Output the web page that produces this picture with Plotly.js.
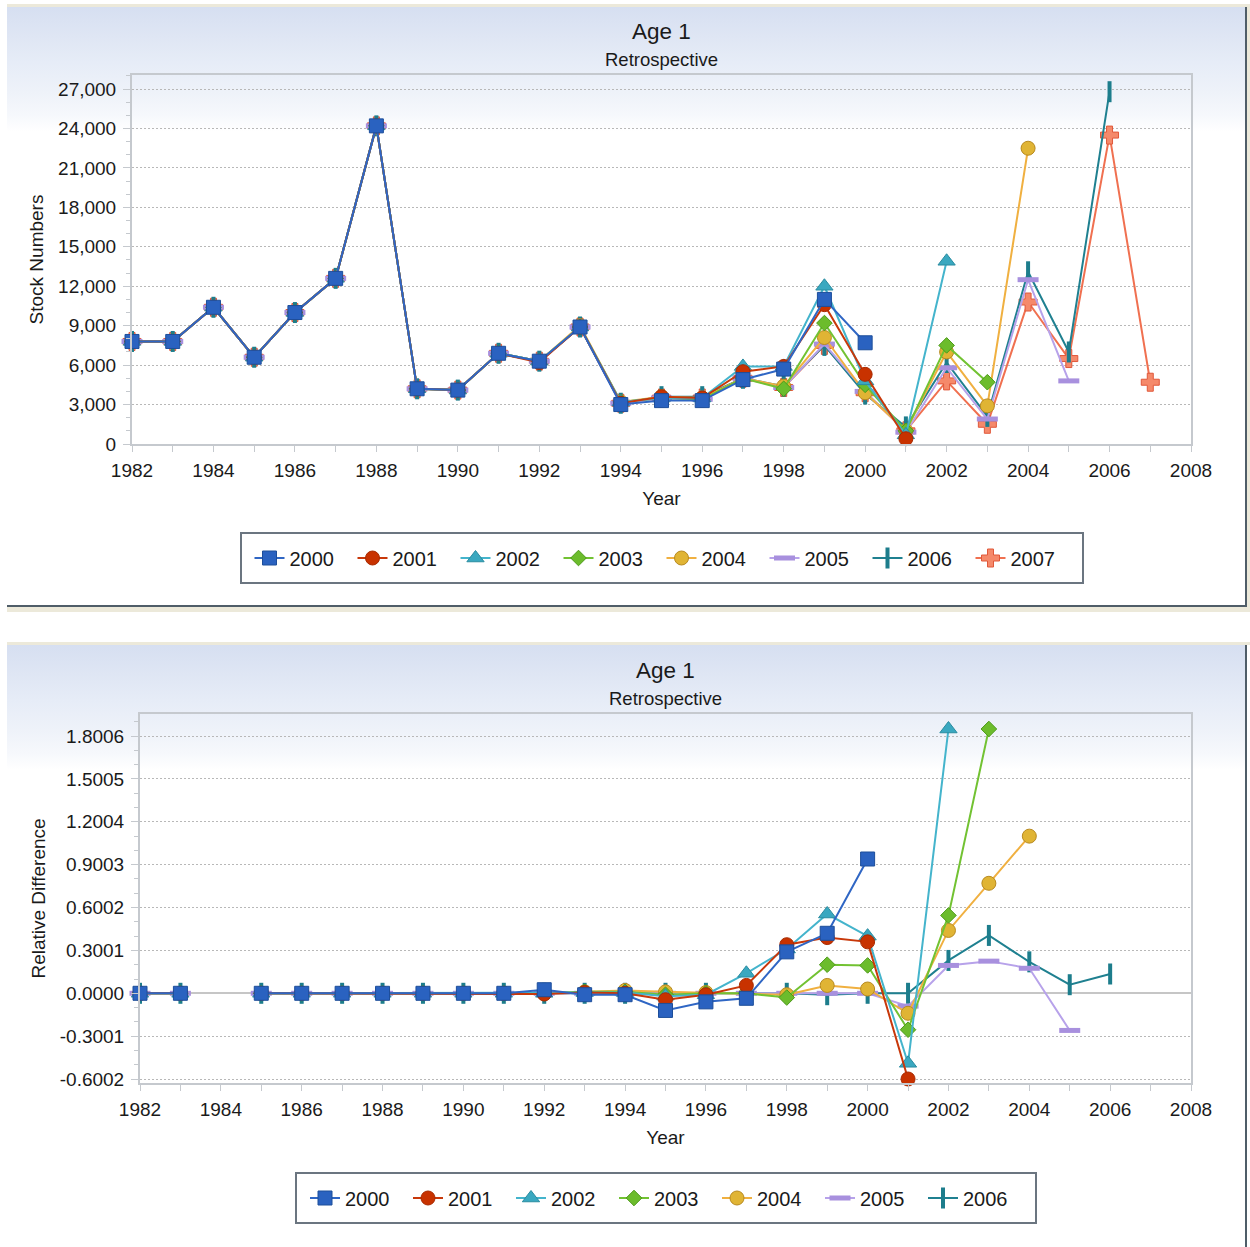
<!DOCTYPE html>
<html>
<head>
<meta charset="utf-8">
<script src="https://cdn.plot.ly/plotly-3.0.1.min.js"></script>
<style>
  html, body { margin:0; padding:0; background:#ffffff; }
  body { width:1250px; height:1247px; position:relative; overflow:hidden; font-family:"Liberation Sans", Arial, sans-serif; }
  .panel { position:absolute; left:7px; width:1240px; box-sizing:border-box;
           border-right:2px solid #4f5d68;
           background: linear-gradient(to bottom, #d6dff1 0px, #dfe6f4 30px, #e6ecf7 55px, #eef2f9 85px, #f6f8fc 108px, #ffffff 125px); }
  #p1 { top:7px; height:600px; border-bottom:2px solid #4f5d68; }
  #p2 { top:645px; height:602px; }
  .cream { position:absolute; background:#ece9da; }
</style>
</head>
<body>
<div class="cream" style="left:7px;top:4px;width:1243px;height:3px;"></div>
<div class="cream" style="left:7px;top:607px;width:1243px;height:5px;"></div>
<div class="cream" style="left:1247px;top:7px;width:3px;height:605px;"></div>
<div class="cream" style="left:7px;top:642px;width:1243px;height:3px;"></div>
<div id="p1" class="panel"><div id="c1"></div></div>
<div id="p2" class="panel"><div id="c2"></div></div>
<script>
// ---------- DATA ----------
const years = [1982,1983,1984,1985,1986,1987,1988,1989,1990,1991,1992,1993,1994,1995,1996,1997,1998,1999,2000,2001,2002,2003,2004,2005,2006,2007];
const seriesNames = ['2000','2001','2002','2003','2004','2005','2006','2007'];

// Stock numbers (top chart), 1982 onward
const stock2000 = [7800,7800,10400,6600,10000,12600,24200,4200,4100,6900,6300,8900, 3000,3300,3300,4900,5700,11000,7700];
const stock2001 = [7800,7800,10400,6600,10000,12600,24200,4200,4100,6900,6200,8900, 3100,3600,3500,5500,5900,10600,5300,400];
const stock2002 = [7800,7800,10400,6600,10000,12600,24200,4200,4100,6900,6300,8900, 3200,3500,3500,5900,5900,12000,4800,700,13900];
const stock2003 = [7800,7800,10400,6600,10000,12600,24200,4200,4100,6900,6300,8900, 3200,3500,3400,5000,4200,9200,4500,1000,7500,4700];
const stock2004 = [7800,7800,10400,6600,10000,12600,24200,4200,4100,6900,6300,9000, 3200,3600,3500,5000,4400,8100,3900,1000,7000,2900,22500];
const stock2005 = [7800,7800,10400,6600,10000,12600,24200,4200,4100,6900,6300,8900, 3100,3500,3400,5000,4300,7600,4000,900,5800,1900,12500,4800];
const stock2006 = [7800,7800,10400,6600,10000,12600,24200,4200,4100,6900,6300,8900, 3100,3600,3600,5000,4400,7500,3800,1300,6200,2100,13100,7000,26800];
const stock2007 = [7800,7800,10400,6600,10000,12600,24200,4200,4100,6900,6300,8900, 3100,3500,3500,5000,4300,7500,3900,1000,4800,1500,10800,6500,23500,4700];

// Relative difference (bottom chart), 1982 onward (1984 missing)
const rel2000 = [0,0,null,0,0,0,0,0,0,0, 0.025,-0.01,-0.01,-0.12,-0.06,-0.035,0.29,0.42,0.94];
const rel2001 = [0,0,null,0,0,0,0,0,0,0, -0.005,0.005,0.0,-0.045,-0.01,0.055,0.34,0.39,0.36,-0.60];
const rel2002 = [0,0,null,0,0,0,0,0,0,0, 0.0,0.005,0.005,-0.02,-0.01,0.14,0.31,0.555,0.40,-0.49,1.85];
const rel2003 = [0,0,null,0,0,0,0,0,0,0, 0.0,0.01,0.01,-0.01,0.0,0.0,-0.03,0.20,0.195,-0.255,0.545,1.85];
const rel2004 = [0,0,null,0,0,0,0,0,0,0, 0.0,0.01,0.02,0.01,0.005,0.0,-0.01,0.055,0.03,-0.14,0.44,0.77,1.10];
const rel2005 = [0,0,null,0,0,0,0,0,0,0, 0,0,0,0,0,0,0,0,0,-0.09,0.195,0.225,0.175,-0.26];
const rel2006 = [0,0,null,0,0,0,0,0,0,0, 0,0,0,0,0,0,0,-0.01,0,0,0.23,0.405,0.22,0.06,0.135];

const relTickVals = [-0.6002,-0.3001,0,0.3001,0.6002,0.9003,1.2004,1.5005,1.8006];
const relTickText = ['-0.6002','-0.3001','0.0000','0.3001','0.6002','0.9003','1.2004','1.5005','1.8006'];

// ---------- STYLES ----------
const styles = {
  '2000': {line:'#2f66c4', marker:{symbol:'square', size:14, color:'#2a62c0', line:{color:'#1d4e9a', width:1}}},
  '2001': {line:'#c8380a', marker:{symbol:'circle', size:14, color:'#c83200', line:{color:'#a82a00', width:1}}},
  '2002': {line:'#44b4cc', marker:{symbol:'triangle-up', size:15, color:'#3aa8c0', line:{color:'#2a8ca0', width:1}}},
  '2003': {line:'#72c232', marker:{symbol:'diamond', size:12, color:'#6cbc2c', line:{color:'#4c9a18', width:1}}},
  '2004': {line:'#f0b040', marker:{symbol:'circle', size:14, color:'#e0b434', line:{color:'#b88a20', width:1}}},
  '2005': {line:'#b7a2ea', marker:{symbol:'line-ew', size:15, color:'#b09ae0', line:{color:'#a890de', width:5}}},
  '2006': {line:'#1f8090', marker:{symbol:'line-ns', size:15, color:'#1d7d8c', line:{color:'#1d7d8c', width:4}}},
  '2007': {line:'#f07050', marker:{symbol:'cross', size:15, color:'#f5896a', line:{color:'#e0583a', width:1}}}
};

function makeTraces(list) {
  const traces = [];
  for (let i = list.length - 1; i >= 0; i--) {
    const name = list[i][0], vals = list[i][1];
    const st = styles[name];
    traces.push({
      type:'scatter', mode:'lines+markers', name:name,
      x: years.slice(0, vals.length), y: vals,
      connectgaps:false,
      line:{color:st.line, width:2},
      marker: st.marker,
      cliponaxis:false
    });
  }
  return traces;
}

const baseFont = {family:'"Liberation Sans", Arial, sans-serif', color:'#1a1a1a'};
function fnt(size) { return Object.assign({size:size}, baseFont); }
const axisLine = '#c5c9ce';
const gridDash = '2px,2px';

function baseLayout(opts) {
  const pw = opts.width - opts.l - opts.r;
  const ph = opts.height - opts.t - opts.b;
  const plotBottom = opts.t + ph;
  const py = function(divY) { return (plotBottom - divY) / ph; };
  const px = function(divX) { return (divX - opts.l) / pw; };
  return {
    width: opts.width, height: opts.height,
    margin: {l:opts.l, r:opts.r, t:opts.t, b:opts.b, pad:0},
    paper_bgcolor:'rgba(0,0,0,0)', plot_bgcolor:'rgba(0,0,0,0)',
    font: fnt(19),
    showlegend:true,
    legend: {orientation:'h', x:0.5, xanchor:'center', y:py(opts.legendMid), yanchor:'middle',
             bgcolor:'rgba(0,0,0,0)', borderwidth:0, font:fnt(20),
             traceorder:'reversed', entrywidth:58, entrywidthmode:'pixels'},
    shapes: [{type:'rect', xref:'paper', yref:'paper',
              x0:px(opts.legBox[0]), x1:px(opts.legBox[1]), y0:py(opts.legBox[2]), y1:py(opts.legBox[3]),
              line:{color:'#6b7580', width:2}, fillcolor:'rgba(0,0,0,0)'}],
    annotations: [
      {text:'Age 1', xref:'paper', yref:'paper', x:0.5, y:py(opts.titleY), xanchor:'center', yanchor:'middle',
       showarrow:false, font:fnt(22.5)},
      {text:'Retrospective', xref:'paper', yref:'paper', x:0.5, y:py(opts.subY), xanchor:'center', yanchor:'middle',
       showarrow:false, font:fnt(18.5)}
    ],
    xaxis: {
      range:[1982, 2008], tickmode:'linear', tick0:1982, dtick:2,
      ticks:'outside', ticklen:6, tickcolor:axisLine, tickwidth:1,
      minor:{dtick:1, ticks:'outside', ticklen:6, tickcolor:axisLine},
      showline:true, mirror:true, linecolor:axisLine, linewidth:2,
      showgrid:false, zeroline:false,
      tickfont:fnt(19), ticklabelstandoff:2,
      title:{text:'Year', font:fnt(19), standoff:12}
    }
  };
}

function yBase(extra) {
  return Object.assign({
    ticks:'outside', ticklen:7, tickcolor:axisLine,
    showline:true, mirror:true, linecolor:axisLine, linewidth:2,
    showgrid:true, gridcolor:'#b8b8b8', griddash:gridDash, gridwidth:1,
    tickfont:fnt(19), ticklabelstandoff:3
  }, extra);
}

// ---------- TOP CHART ----------
const topSeries = [['2000',stock2000],['2001',stock2001],['2002',stock2002],['2003',stock2003],
             ['2004',stock2004],['2005',stock2005],['2006',stock2006],['2007',stock2007]];
const lay1 = baseLayout({width:1238, height:598, l:125, r:54, t:68, b:161,
                          titleY:24, subY:53, legendMid:551, legBox:[234,1076,526,576]});
lay1.yaxis = yBase({
  range:[0, 28070], tickmode:'linear', tick0:0, dtick:3000, tickformat:',d',
  minor:{dtick:1000, ticks:'outside', ticklen:4, tickcolor:axisLine},
  zeroline:false,
  title:{text:'Stock Numbers', font:fnt(19), standoff:9}
});
Plotly.newPlot('c1', makeTraces(topSeries), lay1, {displayModeBar:false, staticPlot:true});

// ---------- BOTTOM CHART ----------
const botSeries = [['2000',rel2000],['2001',rel2001],['2002',rel2002],['2003',rel2003],
             ['2004',rel2004],['2005',rel2005],['2006',rel2006]];
const lay2 = baseLayout({width:1238, height:602, l:133, r:54, t:69, b:164,
                          titleY:26, subY:54, legendMid:553, legBox:[289,1029,528,578]});
lay2.yaxis = yBase({
  range:[-0.628, 1.955], tickmode:'array', tickvals:relTickVals, ticktext:relTickText,
  minor:{tick0:0, dtick:0.10003, ticks:'outside', ticklen:4, tickcolor:axisLine},
  zeroline:true, zerolinecolor:'#c6c6c6', zerolinewidth:2,
  title:{text:'Relative Difference', font:fnt(19), standoff:9}
});
Plotly.newPlot('c2', makeTraces(botSeries), lay2, {displayModeBar:false, staticPlot:true});
</script>
</body>
</html>
